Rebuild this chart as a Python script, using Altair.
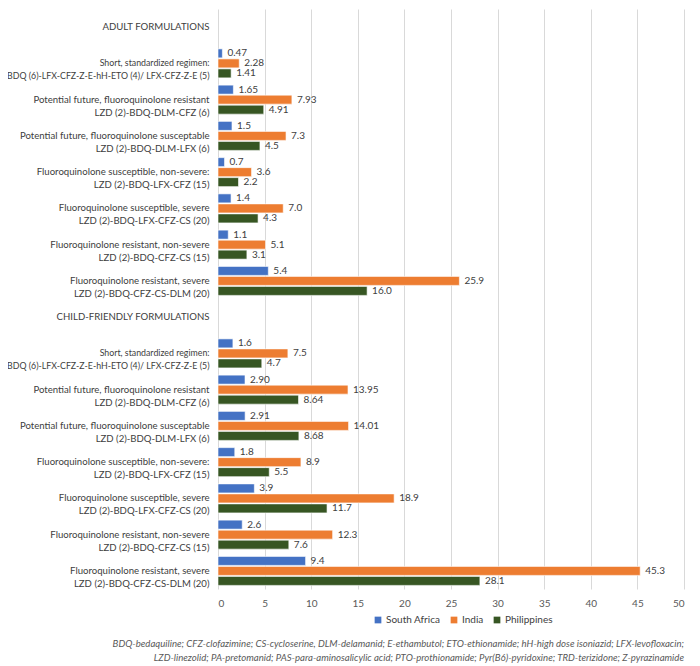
import altair as alt
import pandas as pd

countries = ["South Africa", "India", "Philippines"]
colors = ["#4472C4", "#ED7D31", "#375623"]

regimens = [
    "Short, standardized regimen:|BDQ (6)-LFX-CFZ-Z-E-hH-ETO (4)/ LFX-CFZ-Z-E (5)",
    "Potential future, fluoroquinolone resistant|LZD (2)-BDQ-DLM-CFZ (6)",
    "Potential future, fluoroquinolone susceptable|LZD (2)-BDQ-DLM-LFX (6)",
    "Fluoroquinolone susceptible, non-severe:|LZD (2)-BDQ-LFX-CFZ (15)",
    "Fluoroquinolone susceptible, severe|LZD (2)-BDQ-LFX-CFZ-CS (20)",
    "Fluoroquinolone resistant, non-severe|LZD (2)-BDQ-CFZ-CS (15)",
    "Fluoroquinolone resistant, severe|LZD (2)-BDQ-CFZ-CS-DLM (20)",
]

adult_header = "ADULT FORMULATIONS"
child_header = "CHILD-FRIENDLY FORMULATIONS"

adult_south_africa = ["0.47", "1.65", "1.5", "0.7", "1.4", "1.1", "5.4"]
adult_india = ["2.28", "7.93", "7.3", "3.6", "7.0", "5.1", "25.9"]
adult_philippines = ["1.41", "4.91", "4.5", "2.2", "4.3", "3.1", "16.0"]

child_south_africa = ["1.6", "2.90", "2.91", "1.8", "3.9", "2.6", "9.4"]
child_india = ["7.5", "13.95", "14.01", "8.9", "18.9", "12.3", "45.3"]
child_philippines = ["4.7", "8.64", "8.68", "5.5", "11.7", "7.6", "28.1"]

x_ticks = [0, 5, 10, 15, 20, 25, 30, 35, 40, 45, 50]

footnote = [
    "BDQ-bedaquiline; CFZ-clofazimine; CS-cycloserine, DLM-delamanid; E-ethambutol; ETO-ethionamide; hH-high dose isoniazid; LFX-levofloxacin;",
    "LZD-linezolid; PA-pretomanid; PAS-para-aminosalicylic acid; PTO-prothionamide; Pyr(B6)-pyridoxine; TRD-terizidone; Z-pyrazinamide",
]

# category keys (unique), label text after the first '|'
domain = ["A0|" + adult_header] + [f"A{i+1}|{r}" for i, r in enumerate(regimens)] \
    + ["C0|" + child_header] + [f"C{i+1}|{r}" for i, r in enumerate(regimens)]

rows = []
for prefix, series in (("A", [adult_south_africa, adult_india, adult_philippines]),
                       ("C", [child_south_africa, child_india, child_philippines])):
    for ci, country in enumerate(countries):
        for ri, r in enumerate(regimens):
            s = series[ci][ri]
            rows.append({"cat": f"{prefix}{ri+1}|{r}", "country": country,
                         "value": float(s), "label": s})
df = pd.DataFrame(rows)

FONT = "Lato"

y_enc = alt.Y("cat:N", scale=alt.Scale(domain=domain, paddingInner=0.2, paddingOuter=0.1),
              axis=alt.Axis(title=None, labelExpr="slice(split(datum.label, '|'), 1)",
                            domain=False, ticks=False, labelPadding=9, labelLimit=0,
                            labelFontSize={"condition": {"test": "indexof(datum.value, 'BDQ (6)') >= 0",
                                                         "value": 8.8},
                                           "value": 9.6},
                            labelColor="#404040", labelFont=FONT,
                            labelLineHeight=13))
yoff = alt.YOffset("country:N", sort=countries, scale=alt.Scale(paddingInner=0.1))
x_enc = alt.X("value:Q", scale=alt.Scale(domain=[0, 50], nice=False),
              axis=alt.Axis(title=None, values=x_ticks, grid=True, gridColor="#D9D9D9",
                            domain=False, ticks=False, labelFontSize=10, labelColor="#595959",
                            labelFont=FONT, labelPadding=9))

bars = alt.Chart(df).mark_bar(stroke="white", strokeWidth=0.6).encode(
    y=y_enc, yOffset=yoff, x=x_enc,
    color=alt.Color("country:N", sort=countries,
                    scale=alt.Scale(domain=countries, range=colors),
                    legend=alt.Legend(title=None, orient="none", direction="horizontal",
                                      legendX=155, legendY=606, symbolType="square",
                                      symbolSize=45, labelFontSize=10, labelFont=FONT,
                                      labelColor="#404040", columnPadding=8,
                                      symbolStrokeWidth=0, labelOffset=3)),
)

labels = alt.Chart(df).mark_text(align="left", baseline="middle", dx=5, fontSize=10,
                                 font=FONT, color="#404040").encode(
    y=alt.Y("cat:N", scale=alt.Scale(domain=domain, paddingInner=0.2, paddingOuter=0.1)),
    yOffset=yoff, x=alt.X("value:Q"), text="label:N")

chart = (bars + labels).properties(
    width=466, height=580,
    autosize=alt.AutoSizeParams(type="none"),
    padding={"left": 210, "top": 1, "right": 8, "bottom": 76},
    title=alt.TitleParams(text=footnote, orient="bottom", anchor="end", fontSize=9.6,
                          font=FONT, fontStyle="italic", fontWeight="normal",
                          color="#595959", offset=14, lineHeight=14),
).configure_view(stroke=None)

chart.save("out.html", embed_options={"renderer": "svg", "actions": False})
